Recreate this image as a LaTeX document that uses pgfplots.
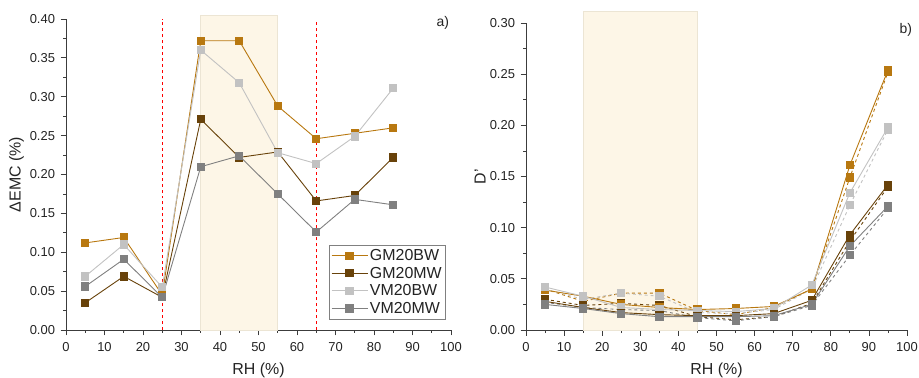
\documentclass[border=0pt]{standalone}
\usepackage{pgfplots}
\pgfplotsset{compat=1.18}
\usepackage{fontspec}
\setmainfont{Liberation Sans}
\definecolor{gmbw}{RGB}{184,120,16}
\definecolor{gmmw}{RGB}{104,66,10}
\definecolor{vmbw}{RGB}{194,194,194}
\definecolor{vmmw}{RGB}{128,128,128}
\definecolor{shadef}{RGB}{253,246,231}
\definecolor{shaded}{RGB}{236,229,212}
\definecolor{axcol}{RGB}{60,60,60}
\definecolor{txt}{RGB}{35,35,35}
\begin{document}
\begin{tikzpicture}
\useasboundingbox (0bp,0bp) rectangle (919bp,378bp);
\pgfplotsset{common/.style={
  scale only axis, axis x line=bottom, axis y line=left,
  every outer x axis line/.append style={-}, every outer y axis line/.append style={-},
  every inner x axis line/.append style={-}, every inner y axis line/.append style={-},
  x axis line style={-}, y axis line style={-},
  xmin=0, xmax=100, xtick={0,10,...,100}, minor x tick num=1, minor y tick num=1,
  tick align=outside, major tick length=5.5bp, minor tick length=3bp,
  tick style={line width=0.8bp, color=axcol}, axis line style={line width=0.8bp, color=axcol},
  ticklabel style={font=\fontsize{13}{13}\selectfont, text=txt},
  x tick label style={yshift=-3bp},
  y tick label style={xshift=-2bp, /pgf/number format/.cd, fixed, fixed zerofill, precision=2},
  label style={font=\fontsize{16}{16}\selectfont, text=txt},
  /pgf/number format/assume math mode=true,
  clip=false, xlabel={RH (\%)},
  every axis plot/.append style={line width=0.9bp, mark=square*, mark size=3.6bp, mark options={solid}},
}}
\begin{axis}[common, at={(66bp,48bp)}, anchor=south west, width=385bp, height=311bp,
  ymin=0, ymax=0.40, ytick={0,0.05,0.10,0.15,0.20,0.25,0.30,0.35,0.40},
  ylabel={ΔEMC (\%)},
  ylabel style={at={(axis description cs:-0.10,0.5)}, anchor=south},
  xlabel style={at={(axis description cs:0.5,-0.129)}, anchor=center},
  legend style={at={(rel axis cs:0.987,0.035)}, anchor=south east, draw=gray, line width=0.6bp,
    font=\fontsize{16}{18}\selectfont, text=txt, row sep=1bp, inner sep=2bp},
  legend cell align=left,
  legend image code/.code={\draw[#1, mark repeat=2, mark phase=2] plot coordinates {(0bp,0bp) (18bp,0bp) (36bp,0bp)};},
]
\addplot[forget plot, mark=none, fill=shadef, draw=shaded, line width=0.8bp] coordinates {(35,0) (35,0.405) (55,0.405) (55,0)} -- cycle;
\addplot[forget plot, mark=none, red, dashed, line width=0.7bp] coordinates {(25,0) (25,0.40)};
\addplot[forget plot, mark=none, red, dashed, line width=0.7bp] coordinates {(65,0) (65,0.397)};
\addplot[color=gmbw] coordinates {(5,0.112) (15,0.119) (25,0.045) (35,0.372) (45,0.372) (55,0.288) (65,0.246) (75,0.253) (85,0.260)};
\addplot[color=gmmw] coordinates {(5,0.035) (15,0.069) (25,0.042) (35,0.271) (45,0.222) (55,0.229) (65,0.166) (75,0.173) (85,0.222)};
\addplot[color=vmbw] coordinates {(5,0.069) (15,0.110) (25,0.055) (35,0.360) (45,0.318) (55,0.228) (65,0.214) (75,0.249) (85,0.311)};
\addplot[color=vmmw] coordinates {(5,0.056) (15,0.091) (25,0.042) (35,0.210) (45,0.224) (55,0.175) (65,0.126) (75,0.168) (85,0.161)};
\legend{GM20BW, GM20MW, VM20BW, VM20MW}
\node[font=\fontsize{14}{14}\selectfont, text=txt] at (rel axis cs:0.979,0.987) {a)};
\end{axis}
\begin{axis}[common, at={(526bp,48bp)}, anchor=south west, width=381bp, height=307bp,
  ymin=0, ymax=0.30, ytick={0,0.05,0.10,0.15,0.20,0.25,0.30},
  ylabel={D'},
  ylabel style={at={(axis description cs:-0.097,0.5)}, anchor=south},
  xlabel style={at={(axis description cs:0.5,-0.130)}, anchor=center},
]
\addplot[mark=none, fill=shadef, draw=shaded, line width=0.8bp] coordinates {(15,0) (15,0.311) (45,0.311) (45,0)} -- cycle;
\addplot[color=gmbw, dashed] coordinates {(5,0.040) (15,0.028) (25,0.036) (35,0.036) (45,0.019) (55,0.015) (65,0.022) (75,0.040) (85,0.149) (95,0.252)};
\addplot[color=vmbw, dashed] coordinates {(5,0.040) (15,0.030) (25,0.036) (35,0.033) (45,0.017) (55,0.016) (65,0.020) (75,0.040) (85,0.122) (95,0.196)};
\addplot[color=gmmw, dashed] coordinates {(5,0.030) (15,0.024) (25,0.026) (35,0.024) (45,0.013) (55,0.010) (65,0.013) (75,0.026) (85,0.087) (95,0.140)};
\addplot[color=vmmw, dashed] coordinates {(5,0.027) (15,0.022) (25,0.020) (35,0.019) (45,0.012) (55,0.009) (65,0.013) (75,0.024) (85,0.073) (95,0.119)};
\addplot[color=gmbw] coordinates {(5,0.039) (15,0.033) (25,0.025) (35,0.022) (45,0.020) (55,0.021) (65,0.023) (75,0.040) (85,0.161) (95,0.254)};
\addplot[color=vmbw] coordinates {(5,0.042) (15,0.033) (25,0.022) (35,0.020) (45,0.019) (55,0.018) (65,0.021) (75,0.044) (85,0.134) (95,0.198)};
\addplot[color=gmmw] coordinates {(5,0.028) (15,0.022) (25,0.017) (35,0.015) (45,0.014) (55,0.014) (65,0.016) (75,0.029) (85,0.093) (95,0.142)};
\addplot[color=vmmw] coordinates {(5,0.025) (15,0.021) (25,0.016) (35,0.013) (45,0.013) (55,0.013) (65,0.014) (75,0.025) (85,0.082) (95,0.121)};
\node[font=\fontsize{14}{14}\selectfont, text=txt] at (rel axis cs:0.997,0.977) {b)};
\end{axis}
\end{tikzpicture}
\end{document}
